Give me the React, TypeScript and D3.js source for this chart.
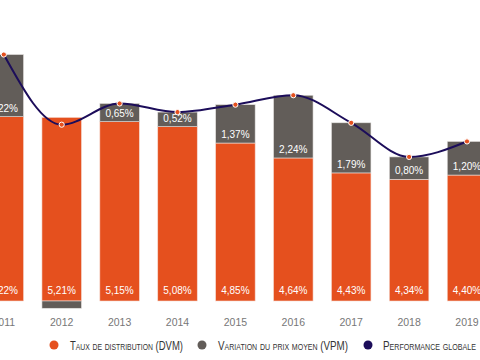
import React from 'react';
import * as d3 from 'd3';

const years = ['2011', '2012', '2013', '2014', '2015', '2016', '2017', '2018', '2019'];
const dvm = [5.22, 5.21, 5.15, 5.08, 4.85, 4.64, 4.43, 4.34, 4.40];
const vpm = [2.22, -0.26, 0.65, 0.52, 1.37, 2.24, 1.79, 0.80, 1.20];
const legendLabels = ['Taux de distribution (DVM)', 'Variation du prix moyen (VPM)', 'Performance globale'];
const legendColors = ['#e5501e', '#625d59', '#1c0d5a'];

const W = 480;
const H = 360;
const ORANGE = '#e5501e';
const GREY = '#625d59';
const NAVY = '#1c0d5a';
const FONT = '"Liberation Sans", Arial, sans-serif';

const fmt = (v: number) => d3.format('.2f')(v).replace('.', ',') + '%';

export default function App() {
  const x = d3.scalePoint<string>().domain(years).range([3.8, 467]);
  const bw = x.step() * 0.682;
  const baseline = 301;
  const yD = d3.scaleLinear().domain([2.63, 5.22]).range([baseline, 116.7]);
  const vh = d3.scaleLinear().domain([0, 1]).range([0, 28]);

  const pts: [number, number][] = years.map((yr, i) => [x(yr)!, yD(dvm[i]) - vh(vpm[i])]);
  const line = d3.line().curve(d3.curveMonotoneX)(pts) || '';

  const legendX = [54, 202, 368];
  const legendTextX = [70, 218, 383];
  const legendW = [113, 130, 93];

  return (
    <svg width={W} height={H} style={{ position: 'fixed', left: 0, top: 0, background: '#fff' }} fontFamily={FONT}>
      {years.map((yr, i) => {
        const cx = x(yr)!;
        const top = yD(dvm[i]);
        const g = vh(vpm[i]);
        return (
          <g key={yr}>
            <rect x={cx - bw / 2} y={top} width={bw} height={baseline - top} fill={ORANGE} stroke="#f6d9cf" strokeWidth={0.6} />
            {vpm[i] >= 0 ? (
              <rect x={cx - bw / 2} y={top - g} width={bw} height={g} fill={GREY} stroke="#e4e2e0" strokeWidth={0.6} />
            ) : (
              <rect x={cx - bw / 2} y={baseline} width={bw} height={vh(-vpm[i])} fill={GREY} stroke="#e4e2e0" strokeWidth={0.6} />
            )}
            {vpm[i] > 0 && (
              <text x={cx} y={top - 5} textAnchor="middle" fontSize={10} fill="#fff">{fmt(vpm[i])}</text>
            )}
            <text x={cx} y={293.5} textAnchor="middle" fontSize={10} fill="#fff">{fmt(dvm[i])}</text>
            <text x={cx} y={325.5} textAnchor="middle" fontSize={10.5} fill="#777">{yr}</text>
          </g>
        );
      })}
      <path d={line} fill="none" stroke={NAVY} strokeWidth={2} />
      {pts.map((p, i) => (
        <circle key={i} cx={p[0]} cy={p[1]} r={2.6} fill={ORANGE} stroke="#fff" strokeWidth={1} />
      ))}
      {legendLabels.map((lab, i) => (
        <g key={lab}>
          <circle cx={legendX[i]} cy={345} r={4.5} fill={legendColors[i]} />
          <text x={legendTextX[i]} y={349.5} fontSize={12.5} fill="#333" style={{ fontVariant: 'small-caps' }}
            textLength={legendW[i]} lengthAdjust="spacingAndGlyphs">{lab}</text>
        </g>
      ))}
    </svg>
  );
}
